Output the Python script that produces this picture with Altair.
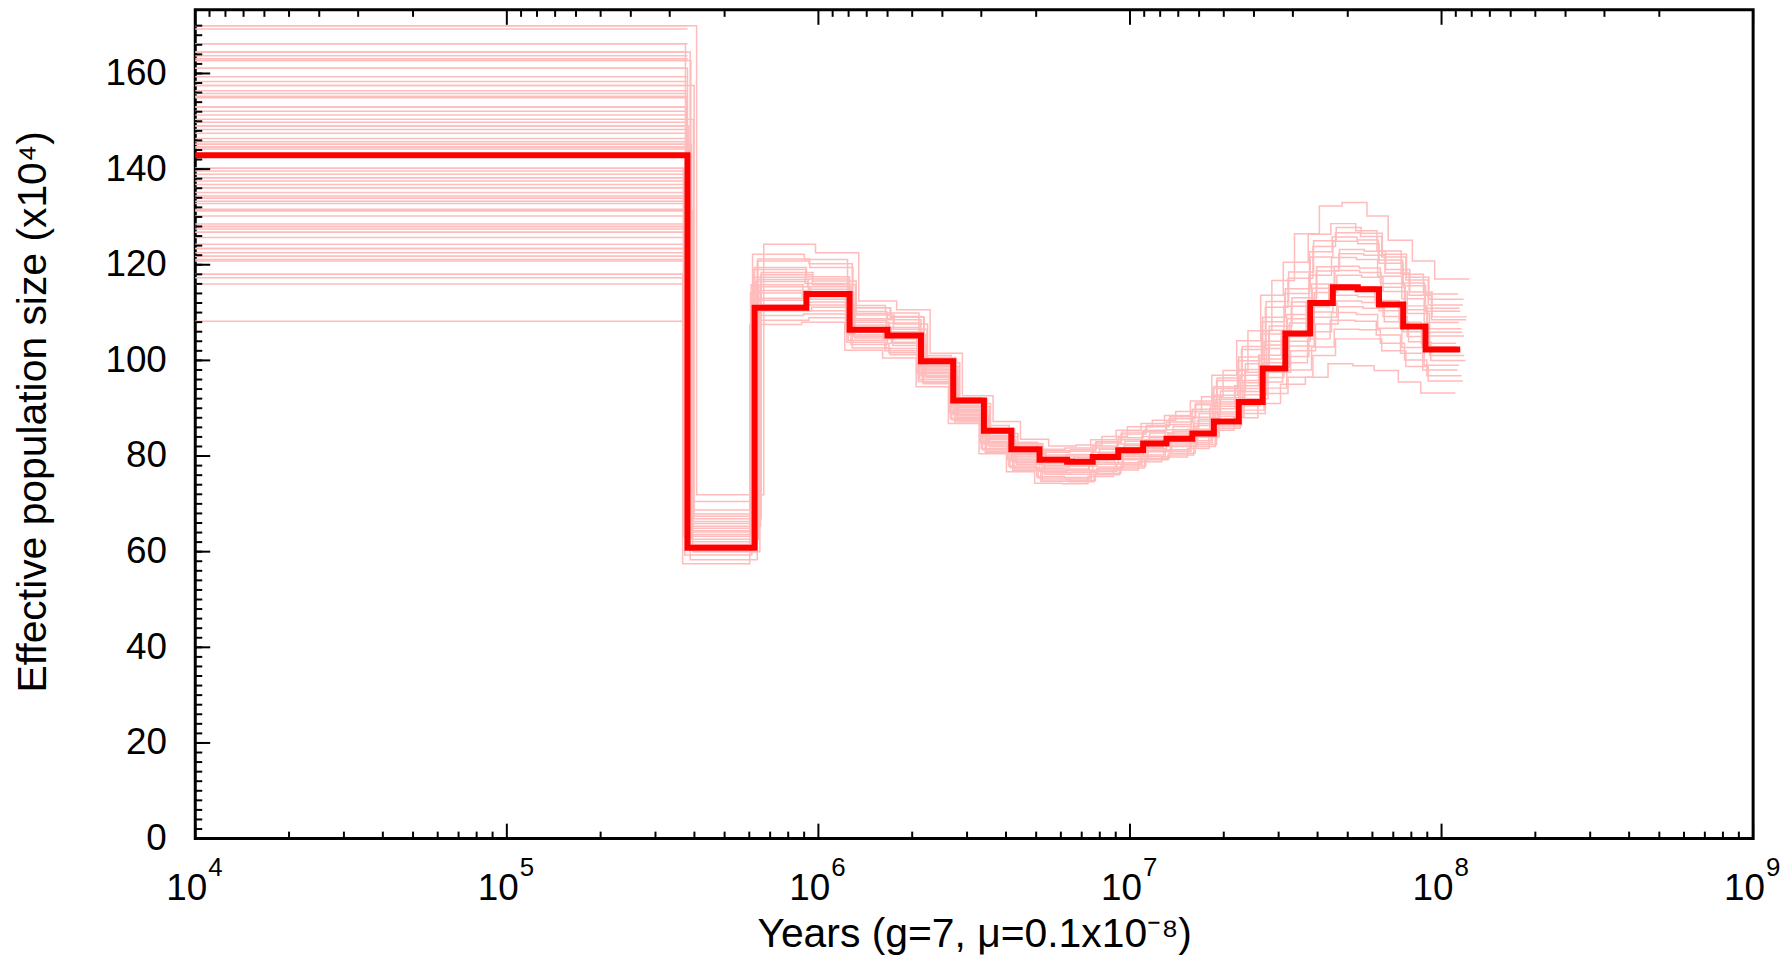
import altair as alt
import pandas as pd

FONT = "Liberation Sans"
PINK = "#ffbcbc"
RED = "#ff0000"

# ---- main PSMC curve ----
# segment boundaries in years (first = left edge)
main_t = [1e4, 380000, 624000, 915000, 1259000, 1666000, 2134000, 2708000,
          3398000, 4160000, 5124000, 6285000, 7594000, 9170000, 11020000,
          13100000, 15860000, 18590000, 22350000, 26670000, 31520000,
          37890000, 44790000, 53840000, 62990000, 75320000, 88830000,
          114800000]
# effective population size (x10^4) of each segment
main_ne = [142.9, 60.8, 111.0, 113.9, 106.4, 105.2, 99.8, 91.6, 85.3, 81.4,
           79.2, 78.8, 79.8, 81.2, 82.6, 83.6, 84.7, 87.2, 91.3, 98.3, 105.6,
           112.0, 115.3, 114.9, 111.7, 107.1, 102.3]

# ---- bootstrap replicates ----
# first-segment levels of the bootstrap lines
boot_first = [170.0, 169.3, 166.2, 164.5, 163.7, 163.1, 162.7, 161.1, 159.3,
              158.3, 157.5, 156.4, 155.8, 155.2, 154.9, 153.0, 152.1, 151.3,
              150.4, 149.8, 149.0, 148.3, 147.5, 146.4, 145.7, 145.2, 144.6,
              144.2, 140.2, 139.6, 138.9, 138.2, 137.5, 136.8, 136.1, 135.1,
              134.4, 133.9, 133.3, 132.8, 131.6, 131.3, 130.2, 128.5, 128.0,
              127.5, 126.8, 125.7, 124.3, 123.4, 122.5, 121.8, 121.1, 120.8,
              118.0, 117.3, 116.0, 108.2]

# group A: band edges and spread (14 replicates)
boot_start_a = [118.0, 121.8, 126.8, 131.3, 136.1, 140.2, 145.2, 149.0, 153.0,
                157.5, 161.1, 164.5, 166.2, 170.0]
boot_shift_a = [0.965, 1.02, 0.98, 1.04, 1.00, 0.97, 1.03, 1.01, 0.99, 1.05,
                1.00, 1.02, 0.985, 1.07]
# replicate levels for segments 2..27 (one row per segment, one column per replicate)
boot_seg_a = [
    [57.5, 58.3, 59.3, 60.0, 62.1, 63.2, 64.1, 64.9, 65.9, 66.9, 67.9, 68.7, 70.5, 71.9],
    [107.5, 108.4, 109.4, 110.4, 112.6, 114.1, 115.4, 116.5, 117.4, 118.4, 119.4, 120.8, 122.2, 124.3],
    [108.0, 108.9, 109.7, 111.1, 112.2, 113.3, 114.4, 115.4, 116.1, 116.6, 117.5, 120.2, 121.1, 122.5],
    [102.1, 102.6, 103.8, 104.7, 105.3, 106.5, 106.9, 108.0, 108.4, 109.5, 109.8, 111.0, 111.5, 112.4],
    [100.5, 101.2, 102.0, 103.1, 103.6, 104.5, 105.4, 106.0, 106.9, 107.6, 108.5, 109.2, 109.9, 110.6],
    [94.5, 95.1, 95.6, 96.4, 96.8, 97.4, 98.1, 98.4, 99.0, 99.5, 100.1, 100.6, 101.0, 101.5],
    [86.8, 87.4, 87.8, 88.4, 88.7, 89.3, 89.8, 90.1, 90.6, 91.0, 91.4, 91.8, 92.2, 92.6],
    [80.5, 81.0, 81.6, 82.0, 82.5, 83.0, 83.4, 83.8, 84.3, 84.7, 85.3, 85.8, 86.4, 87.2],
    [76.7, 77.3, 77.9, 78.3, 78.9, 79.4, 79.8, 80.3, 80.8, 81.2, 81.8, 82.3, 82.9, 83.5],
    [74.3, 75.0, 75.7, 76.2, 76.8, 77.4, 78.0, 78.4, 79.0, 79.5, 80.2, 80.8, 81.4, 82.1],
    [74.2, 74.9, 75.5, 76.2, 76.9, 77.3, 77.9, 78.5, 79.1, 79.7, 80.3, 81.0, 81.7, 82.3],
    [75.7, 76.4, 77.1, 77.7, 78.3, 79.0, 79.6, 80.2, 80.8, 81.4, 82.1, 82.7, 83.4, 84.1],
    [77.1, 77.9, 78.6, 79.2, 79.9, 80.5, 81.1, 81.8, 82.5, 83.1, 83.8, 84.6, 85.4, 86.1],
    [78.8, 79.5, 80.2, 80.9, 81.5, 82.1, 82.8, 83.4, 84.1, 84.8, 85.4, 86.1, 86.8, 87.5],
    [79.8, 80.6, 81.3, 82.0, 82.7, 83.4, 84.1, 84.8, 85.5, 86.2, 87.1, 87.8, 88.5, 89.3],
    [81.6, 82.4, 83.2, 84.0, 84.8, 85.6, 86.4, 87.3, 88.1, 88.9, 89.8, 90.7, 91.5, 92.4],
    [85.4, 86.3, 87.2, 88.3, 89.2, 89.9, 90.9, 91.8, 92.7, 93.6, 94.5, 95.8, 96.9, 97.9],
    [88.0, 88.9, 90.5, 92.0, 93.5, 94.7, 95.8, 96.9, 98.1, 99.3, 100.7, 102.3, 104.1, 106.2],
    [91.0, 93.1, 95.5, 97.5, 99.5, 101.1, 102.5, 104.0, 105.5, 107.2, 109.0, 111.1, 113.6, 116.7],
    [95.0, 96.5, 99.5, 102.0, 104.0, 106.0, 107.8, 109.6, 111.3, 113.1, 115.0, 117.2, 120.5, 126.5],
    [96.5, 101.0, 104.5, 107.6, 110.1, 112.3, 114.2, 116.0, 117.8, 119.6, 121.6, 123.8, 126.4, 132.3],
    [99.3, 104.5, 108.4, 111.2, 113.6, 115.8, 117.8, 119.7, 121.5, 123.2, 124.9, 126.7, 128.6, 133.0],
    [98.9, 104.5, 108.2, 110.9, 113.3, 115.4, 117.4, 119.3, 121.1, 122.8, 124.4, 125.9, 127.1, 130.2],
    [97.9, 102.0, 105.3, 108.1, 110.4, 112.5, 114.4, 116.1, 117.6, 119.0, 120.3, 121.6, 122.9, 125.1],
    [95.5, 98.7, 101.5, 103.9, 106.0, 108.0, 109.8, 111.4, 112.9, 114.3, 115.6, 116.8, 118.0, 120.8],
    [93.2, 95.7, 98.0, 100.0, 101.9, 103.6, 105.1, 106.6, 107.9, 109.1, 110.3, 111.6, 113.9, 117.0],
]

# group B: dense core of the band (8 replicates)
boot_start_b = [123.4, 128.0, 133.9, 138.2, 144.6, 150.4, 155.2, 162.7]
boot_shift_b = [1.01, 0.99, 1.03, 0.975, 1.015, 1.045, 0.995, 1.025]
boot_seg_b = [
    [60.6, 61.5, 62.6, 63.6, 64.4, 65.3, 66.3, 67.4],
    [111.6, 113.0, 114.6, 115.8, 116.9, 117.9, 119.0, 121.2],
    [110.4, 111.6, 112.8, 113.9, 114.9, 115.8, 117.0, 119.4],
    [103.3, 104.2, 105.0, 105.9, 107.4, 108.7, 110.2, 111.0],
    [101.6, 102.5, 103.8, 104.9, 105.7, 106.5, 107.8, 109.0],
    [95.3, 96.0, 96.6, 97.2, 97.8, 98.7, 99.3, 100.3],
    [87.1, 87.6, 88.1, 89.0, 89.5, 90.3, 91.2, 92.0],
    [80.8, 81.3, 82.3, 82.8, 83.6, 84.1, 85.0, 85.6],
    [77.0, 77.6, 78.6, 79.2, 80.0, 80.6, 81.5, 82.6],
    [74.7, 75.4, 76.5, 77.1, 77.7, 78.8, 79.8, 81.1],
    [74.6, 75.2, 76.6, 77.1, 78.2, 78.8, 80.0, 81.3],
    [76.1, 76.8, 77.4, 78.6, 79.3, 80.5, 81.7, 83.0],
    [77.5, 78.3, 79.5, 80.2, 81.4, 82.2, 83.4, 85.0],
    [79.2, 79.9, 81.2, 81.8, 83.1, 83.8, 85.1, 86.4],
    [80.2, 81.0, 82.3, 83.1, 84.4, 85.2, 86.6, 88.2],
    [82.0, 82.8, 84.4, 85.2, 86.8, 87.7, 89.3, 91.1],
    [85.8, 86.8, 88.8, 90.4, 91.3, 92.2, 94.1, 96.3],
    [89.6, 91.2, 92.8, 94.1, 95.3, 97.5, 99.9, 102.9],
    [94.2, 96.4, 98.5, 100.3, 103.2, 106.3, 108.1, 112.3],
    [98.0, 100.8, 103.0, 105.0, 108.7, 112.2, 114.0, 118.5],
    [102.8, 106.0, 109.0, 111.2, 115.1, 118.7, 122.7, 125.0],
    [106.5, 110.0, 112.4, 114.7, 118.8, 122.3, 125.8, 127.8],
    [106.4, 109.6, 112.1, 114.4, 118.4, 122.0, 125.2, 126.6],
    [103.6, 106.7, 109.2, 111.4, 115.3, 118.3, 121.0, 122.2],
    [100.1, 102.7, 105.0, 107.0, 110.6, 113.6, 116.2, 117.4],
    [96.8, 99.0, 101.0, 102.8, 105.9, 108.5, 110.9, 112.8],
]

# ---- axes ----
x_major = [1e4, 1e5, 1e6, 1e7, 1e8, 1e9]
x_label_exp = ["4", "5", "6", "7", "8", "9"]
x_minor_mult = [2, 3, 4, 5, 6, 7, 8, 9]
x_top_minor_mult = [1.111, 1.25, 1.429, 1.667, 2.0, 2.5, 3.333, 5.0]
y_major = [0, 20, 40, 60, 80, 100, 120, 140, 160]
y_minor = list(range(0, 171, 2))

W, H = 1564, 832

# ---- build tables ----
main_df = pd.DataFrame({
    "x": main_t,
    "y": main_ne + [main_ne[-1]],
    "i": list(range(len(main_t))),
})

first_df = pd.DataFrame({
    "x": [main_t[0]] * len(boot_first),
    "x2": [main_t[1]] * len(boot_first),
    "y": boot_first,
})

rows = []
rep_id = 0
for starts, shifts, table in [(boot_start_a, boot_shift_a, boot_seg_a),
                              (boot_start_b, boot_shift_b, boot_seg_b)]:
    for r in range(len(starts)):
        xs = [main_t[0]] + [t * shifts[r] for t in main_t[1:]]
        ys = [starts[r]] + [seg[r] for seg in table] + [table[-1][r]]
        for i, (xv, yv) in enumerate(zip(xs, ys)):
            rows.append({"x": xv, "y": yv, "i": i, "rep": rep_id})
        rep_id += 1
boot_df = pd.DataFrame(rows)

decades = x_major[:-1]
xminor_df = pd.DataFrame({"x": [m * d for d in decades for m in x_minor_mult]})
xtopminor_df = pd.DataFrame({"x": [m * d for d in decades for m in x_top_minor_mult]})
xmajor_df = pd.DataFrame({"x": x_major})
ymajor_df = pd.DataFrame({"y": y_major})
yminor_df = pd.DataFrame({"y": y_minor})
lab_df = pd.DataFrame({"x": x_major, "base": ["10"] * len(x_major), "exp": x_label_exp})

xscale = alt.Scale(type="log", domain=[1e4, 1e9], nice=False)
yscale = alt.Scale(domain=[0, 173.3], nice=False, zero=False)

xaxis = alt.Axis(labels=False, ticks=False, domain=False, grid=False,
                 title="Years (g=7, μ=0.1x10⁻⁸)", titleFont=FONT,
                 titleFontSize=41, titleFontWeight="normal", titleColor="black",
                 titleBaseline="alphabetic", titleY=108)
yaxis = alt.Axis(values=y_major, ticks=False, tickSize=0, domain=False,
                 grid=False, labelFont=FONT, labelFontSize=37,
                 labelColor="black", labelPadding=29,
                 title="Effective population size (x10⁴)", titleFont=FONT,
                 titleFontSize=41, titleFontWeight="normal", titleColor="black",
                 titlePadding=51, titleY=403)


def X(f="x"):
    return alt.X(f"{f}:Q", scale=xscale, axis=xaxis)


def Y(f="y"):
    return alt.Y(f"{f}:Q", scale=yscale, axis=yaxis)


first_layer = alt.Chart(first_df).mark_rule(color=PINK, strokeWidth=1.5).encode(
    x=X(), x2="x2:Q", y=Y())

boot_layer = alt.Chart(boot_df).mark_line(
    interpolate="step-after", color=PINK, strokeWidth=1.5).encode(
    x=X(), y=Y(), detail="rep:N", order="i:Q")

main_layer = alt.Chart(main_df).mark_line(
    interpolate="step-after", color=RED, strokeWidth=6, strokeJoin="miter").encode(
    x=X(), y=Y(), order="i:Q")

tick_style = dict(color="black", strokeWidth=2)
bx_minor = alt.Chart(xminor_df).mark_rule(**tick_style).encode(
    x=X(), y=alt.value(H), y2=alt.value(H - 7))
bx_major = alt.Chart(xmajor_df).mark_rule(**tick_style).encode(
    x=X(), y=alt.value(H), y2=alt.value(H - 15))
tx_minor = alt.Chart(xtopminor_df).mark_rule(**tick_style).encode(
    x=X(), y=alt.value(0), y2=alt.value(7))
tx_major = alt.Chart(xmajor_df).mark_rule(**tick_style).encode(
    x=X(), y=alt.value(0), y2=alt.value(15))
ly_minor = alt.Chart(yminor_df).mark_rule(**tick_style).encode(
    y=Y(), x=alt.value(0), x2=alt.value(7))
ly_major = alt.Chart(ymajor_df).mark_rule(**tick_style).encode(
    y=Y(), x=alt.value(0), x2=alt.value(15))

lab_base = alt.Chart(lab_df).mark_text(
    align="right", baseline="alphabetic", dx=12, font=FONT, fontSize=37,
    color="black").encode(x=X(), y=alt.value(H + 62), text="base:N")
lab_exp = alt.Chart(lab_df).mark_text(
    align="left", baseline="alphabetic", dx=13, font=FONT, fontSize=26,
    color="black").encode(x=X(), y=alt.value(H + 38), text="exp:N")

chart = alt.layer(
    first_layer, boot_layer, main_layer,
    bx_minor, bx_major, tx_minor, tx_major, ly_minor, ly_major,
    lab_base, lab_exp,
).properties(
    width=W, height=H,
    padding={"left": 188, "top": 0, "right": 30, "bottom": 118},
    autosize=alt.AutoSizeParams(type="none"),
).configure_view(
    stroke="black", strokeWidth=3
)

chart.save("out.html", embed_options={"renderer": "svg", "actions": False})
